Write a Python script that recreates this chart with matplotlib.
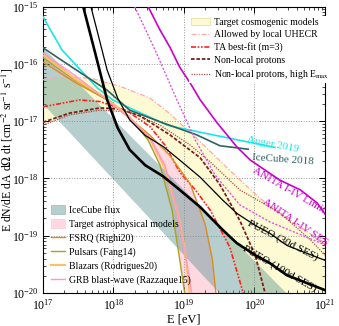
import numpy as np
import matplotlib
matplotlib.use("Agg")
import matplotlib.pyplot as plt
from matplotlib.patches import Patch
from matplotlib.lines import Line2D

plt.rcParams["font.family"] = "serif"
plt.rcParams["font.serif"] = ["Liberation Serif", "DejaVu Serif"]
plt.rcParams["mathtext.fontset"] = "stix"

# all values are log10(E / eV) and log10(E dN/dE dA dOmega dt)

# sensitivities / limits
pueo100_x = [17.57, 17.74, 17.91, 18.06, 18.23, 18.45, 18.70, 18.91, 19.23, 19.55, 19.75, 20.01, 20.22, 20.46, 21.00]
pueo100_y = [-15.00, -15.81, -16.63, -17.12, -17.50, -17.77, -17.96, -18.17, -18.50, -18.90, -19.13, -19.34, -19.48, -19.69, -19.95]
pueo30_x = [17.57, 17.74, 17.91, 18.06, 18.23, 18.45, 18.70, 18.91, 19.23, 19.55, 19.75, 20.01, 20.22, 20.46, 21.00]
pueo30_y = [-14.48, -15.29, -16.11, -16.60, -16.98, -17.25, -17.44, -17.65, -17.98, -18.38, -18.61, -18.82, -18.96, -19.17, -19.43]
auger_x = [17.00, 17.27, 17.77, 17.99, 18.23, 18.76, 18.94, 19.65, 20.29]
auger_y = [-15.18, -15.76, -16.42, -16.63, -16.77, -17.07, -17.12, -17.30, -17.46]
icecube18_x = [17.00, 17.45, 17.91, 18.23, 18.70, 19.18, 19.51, 19.91]
icecube18_y = [-15.72, -16.09, -16.46, -16.81, -17.03, -17.24, -17.43, -17.49]
anita_x = [18.49, 18.66, 18.80, 18.94, 19.09, 19.23, 19.47, 19.75, 19.94, 20.36, 20.65, 20.89, 21.00]
anita_y = [-15.00, -15.41, -15.71, -16.06, -16.34, -16.63, -17.03, -17.45, -17.68, -18.03, -18.20, -18.43, -18.62]
anita_ses_x = [18.30, 18.59, 18.90, 19.16, 19.44, 19.79, 20.22, 20.65, 21.00]
anita_ses_y = [-15.00, -15.76, -16.63, -17.33, -17.94, -18.46, -18.76, -18.98, -19.16]

# cosmogenic models
allowed_x = [17.00, 17.24, 17.67, 18.09, 18.52, 18.76, 19.18, 19.65, 20.08, 20.50, 21.00]
allowed_y = [-16.28, -16.23, -16.25, -16.39, -16.60, -16.83, -17.30, -17.86, -18.35, -18.73, -19.13]
ta_x = [17.00, 17.52, 17.81, 18.19, 18.52, 18.73, 18.94, 19.16, 19.37, 19.65, 19.84, 19.90]
ta_y = [-16.75, -16.63, -16.66, -16.82, -17.10, -17.42, -17.89, -18.20, -18.55, -19.20, -20.00, -20.50]
nonlocal_x = [17.00, 17.38, 17.81, 18.09, 18.38, 18.80, 19.23, 19.51, 19.79, 20.01, 20.15, 20.25]
nonlocal_y = [-17.02, -16.86, -16.77, -16.79, -16.91, -17.24, -17.64, -18.11, -18.73, -19.34, -20.00, -20.50]
highemax_x = [17.00, 17.38, 17.81, 18.23, 18.66, 19.09, 19.37, 19.79, 20.36, 20.79, 21.00]
highemax_y = [-17.07, -16.89, -16.81, -16.84, -17.07, -17.42, -17.71, -18.20, -18.60, -19.07, -19.34]

# astrophysical models
fsrq_x = [17.00, 17.45, 17.91, 18.23, 18.52, 18.80, 19.09, 19.30, 19.40, 19.47]
fsrq_y = [-15.97, -16.32, -16.63, -16.95, -17.25, -17.60, -18.10, -18.80, -19.40, -20.20]
pulsar_x = [17.00, 17.45, 17.91, 18.23, 18.49, 18.66, 18.83, 18.94, 19.01, 19.06]
pulsar_y = [-15.89, -16.28, -16.63, -16.93, -17.33, -17.77, -18.55, -19.42, -20.00, -20.50]
blazar_x = [17.00, 17.45, 17.91, 18.23, 18.52, 18.73, 18.91, 19.01, 19.08, 19.12]
blazar_y = [-15.85, -16.26, -16.61, -16.93, -17.31, -17.82, -18.60, -19.22, -20.00, -20.50]
grb_x = [17.00, 17.45, 17.91, 18.23, 18.52, 18.73, 18.90, 19.01, 19.11, 19.16]
grb_y = [-15.81, -16.20, -16.63, -16.95, -17.30, -17.77, -18.55, -19.25, -20.00, -20.50]

# IceCube astrophysical flux band
icecube_x = [17.0, 21.0]
icecube_lo = [-16.70, -21.98]
icecube_hi = [-15.72, -20.68]

fig = plt.figure(figsize=(3.39, 3.26), dpi=100)
ax = fig.add_axes([0.1268, 0.1012, 0.8319, 0.8788])

grid = np.linspace(17, 21, 600)
E = 10 ** grid

cosmo = [np.interp(grid, x, y) for x, y in
         [(allowed_x, allowed_y), (ta_x, ta_y), (nonlocal_x, nonlocal_y), (highemax_x, highemax_y)]]
ax.fill_between(E, 10 ** np.min(cosmo, axis=0), 10 ** np.max(cosmo, axis=0),
                color="#fdfad4", lw=0, zorder=1)

astro = [np.interp(grid, x, y) for x, y in
         [(fsrq_x, fsrq_y), (pulsar_x, pulsar_y), (blazar_x, blazar_y), (grb_x, grb_y)]]
ax.fill_between(E, 10 ** np.min(astro, axis=0), 10 ** np.max(astro, axis=0),
                color="#ffb3c6", alpha=0.5, lw=0, zorder=1.5)

ax.fill_between(E, 10 ** np.interp(grid, icecube_x, icecube_lo), 10 ** np.interp(grid, icecube_x, icecube_hi),
                color="#5f9490", alpha=0.45, lw=0, zorder=2)


def line(x, y, **kw):
    ax.plot(10 ** np.array(x), 10 ** np.array(y), **kw)


line(allowed_x, allowed_y, color="#ffa8a8", lw=0.9, ls=(0, (4, 1.5, 1, 1.5)), zorder=3)
line(highemax_x, highemax_y, color="#a85050", lw=0.9, ls=(0, (1, 1)), zorder=3)
line(nonlocal_x, nonlocal_y, color="#7a1e1e", lw=1.3, ls=(0, (2, 1)), zorder=3)
line(ta_x, ta_y, color="#ff2020", lw=1.2, ls=(0, (3, 1, 1, 1, 1, 1)), zorder=3)

line(fsrq_x, fsrq_y, color="#e08c1c", lw=1.0, zorder=4)
line(pulsar_x, pulsar_y, color="#a6a41e", lw=1.0, zorder=4)
line(blazar_x, blazar_y, color="#ffbf6a", lw=1.5, zorder=4)
line(grb_x, grb_y, color="#ff99bb", lw=1.0, zorder=4)

line(auger_x, auger_y, color="#1ae6e6", lw=1.2, zorder=5)
line(icecube18_x, icecube18_y, color="#2f6262", lw=1.2, zorder=5)
line(anita_x, anita_y, color="#cc00cc", lw=1.2, zorder=5)
line(anita_ses_x, anita_ses_y, color="#dd55dd", lw=1.0, ls=(0, (1.5, 1.2)), zorder=5)
line(pueo30_x, pueo30_y, color="black", lw=0.9, zorder=6)
line(pueo100_x, pueo100_y, color="black", lw=1.9, zorder=6)

tkw = dict(fontsize=8, rotation_mode="anchor", ha="left", va="baseline", zorder=7)
ax.text(10 ** 19.89, 10 ** -17.36, "Auger 2019", color="#1ae6e6", rotation=-11, **tkw)
ax.text(10 ** 19.96, 10 ** -17.68, "IceCube 2018", color="#2f6262", rotation=-4, **tkw)
ax.text(10 ** 19.96, 10 ** -17.89, "ANITA I-IV Limit", color="#cc00cc", rotation=-30, **tkw)
ax.text(10 ** 20.11, 10 ** -18.43, "ANITA I-IV SES", color="#cc00cc", rotation=-34, **tkw)
ax.text(10 ** 19.89, 10 ** -18.81, "PUEO (30d SES)", color="black", rotation=-27, **tkw)
ax.text(10 ** 19.82, 10 ** -19.25, "PUEO (100d SES)", color="black", rotation=-30, **tkw)

ax.set_xscale("log")
ax.set_yscale("log")
ax.set_xlim(1e17, 1e21)
ax.set_ylim(1e-20, 1e-15)
ax.grid(which="major", ls=":", color="#999999", lw=0.7, zorder=0.5)
ax.tick_params(which="both", direction="in", top=True, right=True, labelsize=8.5)
ax.tick_params(which="major", length=4, width=0.7)
ax.tick_params(which="minor", length=2, width=0.5)
ax.set_xlabel("E [eV]", fontsize=9, labelpad=1)
ax.set_ylabel(r"E dN/dE dA d$\Omega$ dt [cm$^{-2}$ sr$^{-1}$ s$^{-1}$]", fontsize=8.5)
ax.yaxis.set_label_coords(-0.098, 0.5)

upper_handles = [
    Patch(facecolor="#fdfad4", edgecolor="#e4e0a8", lw=0.6),
    Line2D([], [], color="#ffa8a8", lw=0.9, ls=(0, (4, 1.5, 1, 1.5))),
    Line2D([], [], color="#ff2020", lw=1.2, ls=(0, (3, 1, 1, 1, 1, 1))),
    Line2D([], [], color="#7a1e1e", lw=1.3, ls=(0, (2, 1))),
    Line2D([], [], color="#a85050", lw=0.9, ls=(0, (1, 1))),
]
upper_labels = ["Target cosmogenic models", "Allowed by local UHECR", "TA best-fit (m=3)",
                "Non-local protons", r"Non-local protons, high E$_{\rm max}$"]
leg1 = ax.legend(upper_handles, upper_labels, loc="upper left", bbox_to_anchor=(0.5, 0.985),
                 fontsize=7, frameon=True, framealpha=1, edgecolor="none", fancybox=False,
                 handlelength=2.0, handletextpad=0.4, labelspacing=0.35, borderpad=0.2)
leg1.set_zorder(8)
ax.add_artist(leg1)

lower_handles = [
    Patch(facecolor="#5f9490", alpha=0.45, edgecolor="#5f9490", lw=0.6),
    Patch(facecolor="#ffb3c6", alpha=0.5, edgecolor="#ffb3c6", lw=0.6),
    Line2D([], [], color="#e08c1c", lw=1.0),
    Line2D([], [], color="#a6a41e", lw=1.0),
    Line2D([], [], color="#ffbf6a", lw=1.5),
    Line2D([], [], color="#ff99bb", lw=1.0),
]
lower_labels = ["IceCube flux", "Target astrophysical models", "FSRQ (Righi20)", "Pulsars (Fang14)",
                "Blazars (Rodrigues20)", "GRB blast-wave (Razzaque15)"]
leg2 = ax.legend(lower_handles, lower_labels, loc="lower left", bbox_to_anchor=(0.0, 0.0),
                 fontsize=7, frameon=False, handlelength=1.5, handleheight=1.1,
                 handletextpad=0.4, labelspacing=0.4, borderpad=0.3)
leg2.set_zorder(8)

fig.savefig("out.png", dpi=100)
